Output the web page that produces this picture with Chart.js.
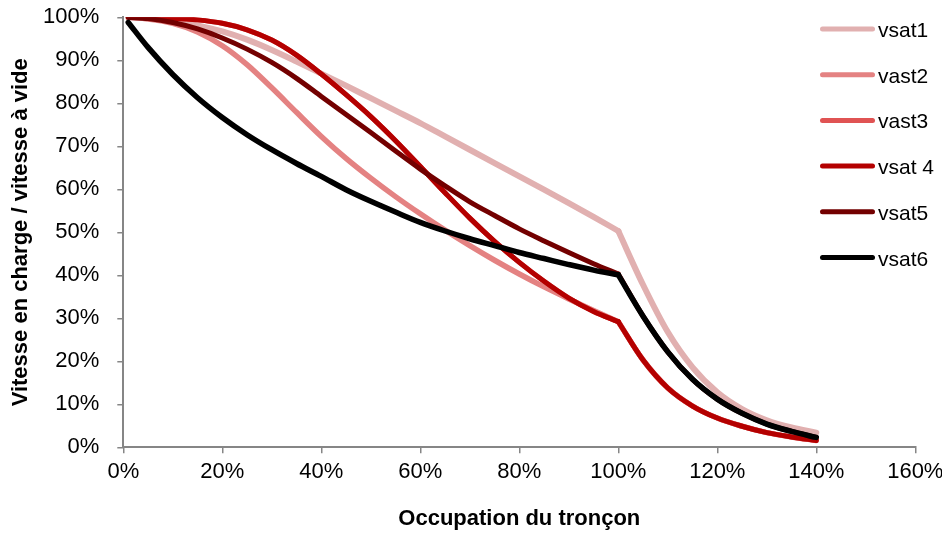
<!DOCTYPE html>
<html>
<head>
<meta charset="utf-8">
<script src="https://cdn.jsdelivr.net/npm/chart.js@4/dist/chart.umd.min.js"></script>
<style>
  html, body { margin: 0; padding: 0; background: #fff; }
  #wrap { width: 942px; height: 534px; position: relative; }
</style>
</head>
<body>
<div id="wrap"><canvas id="c" width="942" height="534"></canvas></div>
<script>
// Occupation du tronçon (%)
const occupation = [1, 5, 10, 15, 20, 25, 30, 35, 40, 45, 50, 55, 60, 65, 70, 75, 80, 85, 90, 95, 100,
                    105, 110, 115, 120, 125, 130, 135, 140];

// Vitesse en charge / vitesse à vide (%) pour chaque courbe
const vsat1 = [100, 99.8, 99.2, 98.1, 96.7, 94.8, 92.4, 89.7, 86.9, 84.1, 81.2, 78.3, 75.4, 72.3, 69.2, 66.1, 63.0, 59.9, 56.8, 53.6, 50.3,
               37.8, 26.8, 18.6, 12.8, 8.9, 6.3, 4.6, 3.4];
const vast2 = [100, 99.6, 98.6, 96.6, 93.4, 89.0, 83.6, 77.9, 72.3, 67.2, 62.6, 58.3, 54.3, 50.5, 46.9, 43.5, 40.3, 37.3, 34.5, 31.8, 29.2,
               20.3, 13.8, 9.6, 6.8, 4.9, 3.4, 2.4, 1.6];
const vast3 = [100, 99.97, 99.8, 99.4, 98.6, 97.1, 94.7, 91.2, 86.8, 82.0, 76.9, 71.3, 65.3, 59.2, 53.3, 47.9, 43.0, 38.6, 34.7, 31.6, 29.2,
               20.3, 13.8, 9.6, 6.8, 4.9, 3.4, 2.4, 1.6];
const vsat4 = [100, 99.97, 99.8, 99.4, 98.6, 97.1, 94.7, 91.2, 86.8, 82.0, 76.9, 71.3, 65.3, 59.2, 53.3, 47.9, 43.0, 38.6, 34.7, 31.6, 29.2,
               20.3, 13.8, 9.6, 6.8, 4.9, 3.4, 2.4, 1.6];
const vsat5 = [100, 99.7, 98.8, 97.3, 95.2, 92.6, 89.5, 85.8, 81.6, 77.4, 73.2, 68.9, 64.7, 60.8, 57.1, 53.9, 50.8, 48.0, 45.3, 42.7, 40.3,
               30.5, 22.2, 15.8, 11.2, 7.9, 5.4, 3.7, 2.3];
const vsat6 = [98.8, 93.0, 86.7, 81.3, 76.7, 72.7, 69.2, 66.0, 63.0, 59.9, 57.2, 54.7, 52.3, 50.3, 48.5, 46.9, 45.3, 43.9, 42.5, 41.2, 40.1,
               30.5, 22.2, 15.8, 11.2, 7.9, 5.4, 3.7, 2.3];

const seriesNames = ['vsat1', 'vast2', 'vast3', 'vsat 4', 'vsat5', 'vsat6'];
const seriesValues = [vsat1, vast2, vast3, vsat4, vsat5, vsat6];
const seriesColors = ['#e1b0b0', '#e48282', '#e05353', '#b40000', '#730000', '#000000'];
const seriesWidths = [6, 5.5, 5, 5, 5, 5.5];

// Saturation point: the curves change law at 100 % occupation
const saturation = 100;

// x axis 0..160 %, y axis 0..100 %
const xTicks = [0, 20, 40, 60, 80, 100, 120, 140, 160];
const yTicks = [0, 10, 20, 30, 40, 50, 60, 70, 80, 90, 100];

const FONT = "'Liberation Sans', Arial, sans-serif";
Chart.defaults.font.family = FONT;
Chart.defaults.color = '#000';

// Each curve is drawn as two smooth pieces joined at the saturation point,
// so the break in slope at 100 % stays sharp.
const datasets = [];
seriesNames.forEach((name, i) => {
  const pts = occupation.map((x, k) => ({ x: x, y: seriesValues[i][k] }));
  const pieces = [pts.filter(p => p.x <= saturation), pts.filter(p => p.x >= saturation)];
  pieces.forEach((piece, j) => {
    datasets.push({
      label: name,
      isMain: j === 0,
      data: piece,
      borderColor: seriesColors[i],
      backgroundColor: seriesColors[i],
      borderWidth: seriesWidths[i],
      pointRadius: 0,
      pointHoverRadius: 0,
      fill: false,
      cubicInterpolationMode: 'monotone',
      borderCapStyle: 'round',
      borderJoinStyle: 'round',
      // later series are drawn on top
      order: seriesNames.length - i
    });
  });
});

// Legend drawn inside the plot, at the upper right
const sideLegend = {
  id: 'sideLegend',
  afterDraw(chart) {
    const ctx = chart.ctx;
    ctx.save();
    chart.data.datasets.filter(ds => ds.isMain).forEach((ds, i) => {
      const y = 29 + i * 45.7;
      ctx.strokeStyle = ds.borderColor;
      ctx.lineWidth = 5;
      ctx.lineCap = 'round';
      ctx.beginPath();
      ctx.moveTo(822.5, y);
      ctx.lineTo(872.5, y);
      ctx.stroke();
      ctx.fillStyle = '#000';
      ctx.font = '21px ' + FONT;
      ctx.textAlign = 'left';
      ctx.textBaseline = 'alphabetic';
      ctx.fillText(ds.label, 878, y + 8);
    });
    ctx.restore();
  }
};

const axisColor = '#868686';

new Chart(document.getElementById('c'), {
  type: 'line',
  data: { datasets: datasets },
  plugins: [sideLegend],
  options: {
    responsive: false,
    animation: false,
    events: [],
    layout: { padding: { left: 0, right: 26.7, top: 17.3, bottom: 1.5 } },
    plugins: {
      legend: { display: false },
      tooltip: { enabled: false }
    },
    scales: {
      x: {
        type: 'linear',
        min: 0,
        max: 160,
        afterBuildTicks: (s) => { s.ticks = xTicks.map(v => ({ value: v })); },
        afterFit: (s) => {
          s.height = 534 - 1.5 - 447.3;
          s.paddingLeft = 0;
          s.paddingRight = 0;
        },
        ticks: {
          padding: 5,
          maxRotation: 0,
          font: { size: 22 },
          callback: (v) => v + '%'
        },
        grid: { display: true, drawOnChartArea: false, drawTicks: true, tickLength: 6, color: axisColor, lineWidth: 1.5 },
        border: { display: true, color: axisColor, width: 2 },
        title: {
          display: true,
          text: 'Occupation du tronçon',
          font: { size: 22, weight: 'bold' },
          padding: { top: 0, bottom: 0 }
        }
      },
      y: {
        type: 'linear',
        min: 0,
        max: 100,
        afterBuildTicks: (s) => { s.ticks = yTicks.map(v => ({ value: v })); },
        afterFit: (s) => {
          s.width = 123.3;
          s.paddingTop = 0;
          s.paddingBottom = 0;
        },
        ticks: {
          padding: 18,
          font: { size: 22 },
          callback: (v) => v + '%'
        },
        grid: { display: true, drawOnChartArea: false, drawTicks: true, tickLength: 6, color: axisColor, lineWidth: 1.5 },
        border: { display: true, color: axisColor, width: 2 },
        title: {
          display: true,
          text: 'Vitesse en charge / vitesse à vide',
          font: { size: 22, weight: 'bold' },
          padding: { top: 8, bottom: 0 }
        }
      }
    }
  }
});
</script>
</body>
</html>
